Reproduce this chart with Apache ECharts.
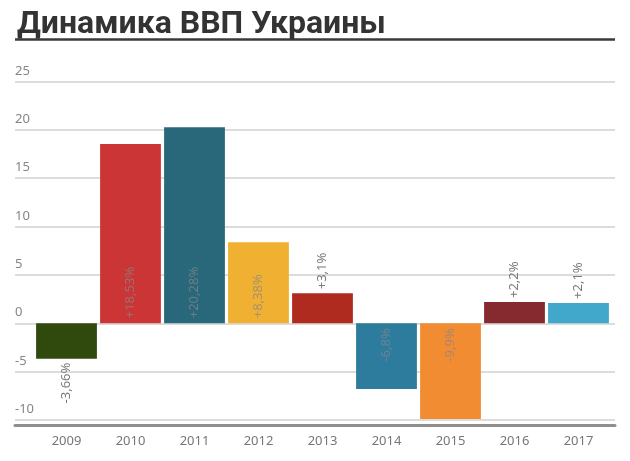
<!DOCTYPE html>
<html>
<head>
<meta charset="utf-8">
<script src="https://cdn.jsdelivr.net/npm/echarts@6/dist/echarts.min.js"></script>
<style>
  html, body { margin: 0; padding: 0; background: #fff; }
  #chart { width: 630px; height: 461px; }
</style>
</head>
<body>
<div id="chart"></div>
<script>
var years = ['2009', '2010', '2011', '2012', '2013', '2014', '2015', '2016', '2017']
var growth = [-3.66, 18.53, 20.28, 8.38, 3.1, -6.8, -9.9, 2.2, 2.1]
var growthLabels = ['-3,66%', '+18,53%', '+20,28%', '+8,38%', '+3,1%', '-6,8%', '-9,9%', '+2,2%', '+2,1%']
// where the value text sits: o = outside the bar, i = inside the bar
var labelPlace = ['o', 'i', 'i', 'i', 'o', 'i', 'i', 'o', 'o']
var barColors = ['#2f4a0c', '#cc3535', '#29687a', '#f0b133', '#b02b1f', '#2d7c9e', '#f28c33', '#862a30', '#41a7cb']
var yTicks = { min: -10, max: 25, step: 5 }

var chart = echarts.init(document.getElementById('chart'))
var font = 'Noto Sans'

function itemLabel(i) {
  var neg = growth[i] < 0
  var inside = labelPlace[i] === 'i'
  var pos
  if (inside) pos = neg ? 'insideTop' : 'insideBottom'
  else pos = neg ? 'bottom' : 'top'
  return {
    show: true,
    position: pos,
    rotate: 90,
    align: (neg ? 'right' : 'left'),
    verticalAlign: 'middle',
    distance: inside ? 5 : 4,
    color: inside ? 'rgba(135,135,135,0.72)' : '#7a7a7a',
    fontFamily: font,
    fontSize: 13,
    formatter: growthLabels[i]
  }
}

var barData = growth.map(function(v, i) {
  return { value: v, itemStyle: { color: barColors[i] }, label: itemLabel(i) }
})

var option = {
  animation: false,
  title: {
    text: 'Динамика ВВП Украины',
    left: 12,
    top: 4,
    textStyle: { fontFamily: 'Roboto', fontWeight: 'bold', fontSize: 32, color: '#333' }
  },
  graphic: [{
    type: 'line',
    shape: { x1: 15, y1: 39.5, x2: 615, y2: 39.5 },
    style: { stroke: '#3a3a3a', lineWidth: 2.5 }
  }],
  grid: [
    { left: 15, right: 15, top: 81.5, bottom: 41 },
    { left: 15, right: 15, top: 81.5, bottom: 35.5 },
    { left: 34.5, right: 19.5, top: 81.5, bottom: 41 }
  ],
  xAxis: [
    { gridIndex: 0, type: 'category', data: years, show: false },
    {
      gridIndex: 1, type: 'category', data: years,
      axisLine: { show: true, onZero: false, lineStyle: { color: '#8f8f8f', width: 3 } },
      axisTick: { show: false }, axisLabel: { show: false }, splitLine: { show: false }
    },
    {
      gridIndex: 2, type: 'category', data: years,
      axisLine: { show: false, onZero: false },
      axisTick: { show: false },
      axisLabel: { margin: 15, color: '#777', fontFamily: font, fontSize: 13 }
    }
  ],
  yAxis: [
    {
      gridIndex: 0, type: 'value', min: yTicks.min, max: yTicks.max, interval: yTicks.step,
      axisLine: { show: false }, axisTick: { show: false },
      axisLabel: {
        inside: true, margin: 0, align: 'left', verticalAlign: 'bottom',
        padding: [0, 0, 4, 0], color: '#858585', fontFamily: font, fontSize: 13
      },
      splitLine: { lineStyle: { color: '#dcdcdc', width: 2 } }
    },
    { gridIndex: 1, type: 'value', show: false, splitLine: { show: false } },
    {
      gridIndex: 2, type: 'value', min: yTicks.min, max: yTicks.max, interval: yTicks.step,
      show: false, splitLine: { show: false }
    }
  ],
  series: [{
    type: 'bar',
    xAxisIndex: 2,
    yAxisIndex: 2,
    barCategoryGap: '5%',
    data: barData
  }]
}
chart.setOption(option)
</script>
</body>
</html>
